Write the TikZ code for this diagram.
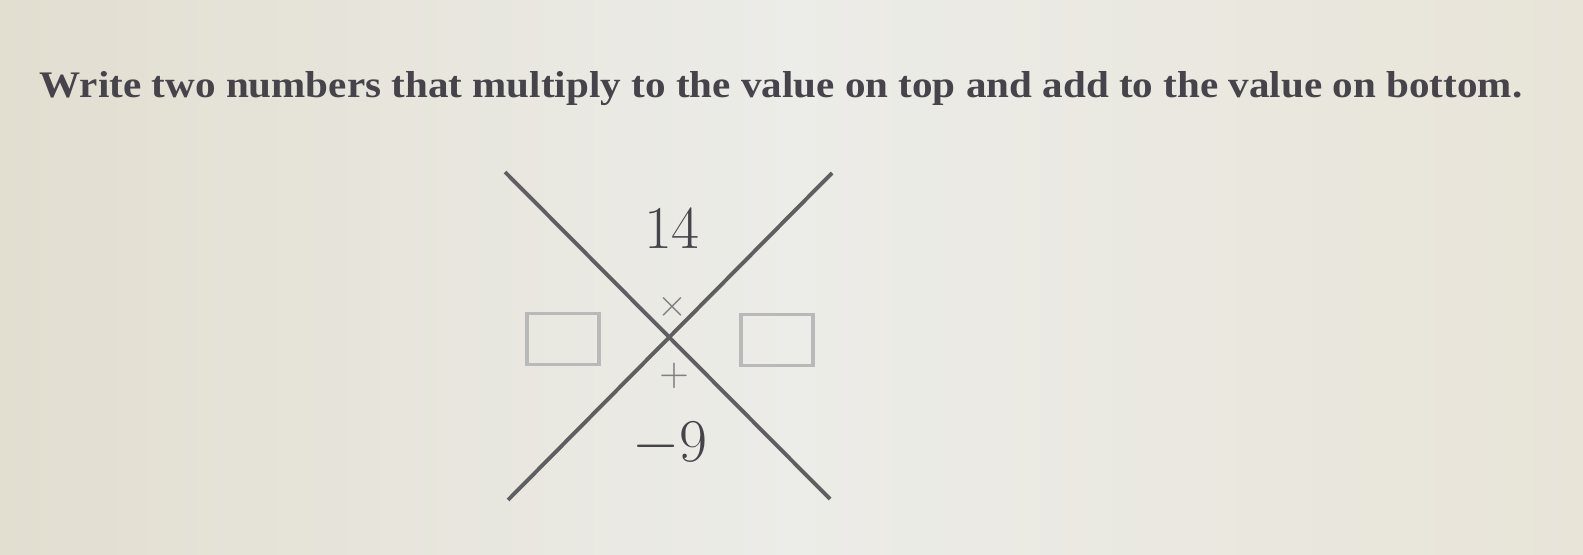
\documentclass[tikz,border=0pt]{standalone}
\usepackage{fontspec}
\usepackage{graphicx}
\newfontfamily\titlefont{Liberation Serif}
\definecolor{paperL}{RGB}{226,222,208}
\definecolor{paperM}{RGB}{236,236,232}
\definecolor{paperR}{RGB}{232,228,216}
\definecolor{inkgray}{RGB}{70,68,74}
\definecolor{linegray}{RGB}{95,95,98}
\definecolor{boxgray}{RGB}{185,185,185}
\usetikzlibrary{positioning}

\begin{document}
\begin{tikzpicture}[x=0.01cm,y=-0.01cm,
  cross/.style={draw=linegray,line width=1.1pt},
  answer/.style={draw=boxgray,line width=0.9pt,minimum width=0.72cm,minimum height=0.51cm,inner sep=0pt},
  num/.style={text=inkgray,font=\fontsize{16}{18}\selectfont},
  op/.style={text=gray,font=\fontsize{11}{12}\selectfont}]
\shade[left color=paperL,right color=paperR,middle color=paperM] (0,0) rectangle (1583,555);
\useasboundingbox (0,0) rectangle (1583,555);
% question
\node[anchor=base,text=inkgray,inner sep=0pt] (title) at (781,98)
  {\resizebox{14.82cm}{0.26cm}{\titlefont\bfseries Write two numbers that multiply to the value on top and add to the value on bottom.}};
% the X
\coordinate (tl) at (505,172);
\coordinate (br) at (830,499);
\coordinate (tr) at (832,173);
\coordinate (bl) at (508,500);
\draw[cross] (tl) -- (br);
\draw[cross] (bl) -- (tr);
\node[num] (prod) at (672,229) {$14$};
\node[op] (times) at (672,307) {$\times$};
\node[op] (plus) at (674,376) {$+$};
\node[num] (sum) at (670,444) {$-9$};
\node[answer] (left) at (563,339) {};
\node[answer] (right) at (777,340) {};
\end{tikzpicture}
\end{document}
